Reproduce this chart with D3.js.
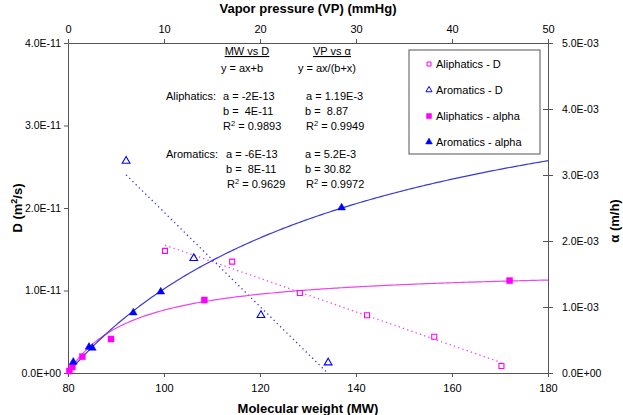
<!DOCTYPE html>
<html><head><meta charset="utf-8">
<script src="https://cdn.jsdelivr.net/npm/d3@7"></script>
<style>body{margin:0;background:#fff} svg{font-family:"Liberation Sans",Arial,sans-serif} text{white-space:pre}</style>
</head><body><svg id="c" width="623" height="415"></svg>
<script>
// ---- data ----
const aliMW = [100.2, 114.2, 128.3, 142.3, 156.3, 170.3];
const aliD = [1.48e-11, 1.35e-11, 0.97e-11, 0.70e-11, 0.44e-11, 0.085e-11];
const aroMW = [92.1, 106.2, 120.2, 134.2];
const aroD = [2.57e-11, 1.39e-11, 0.70e-11, 0.125e-11];
const aliVP = [46.0, 14.2, 4.48, 1.49, 0.45, 0.14];
const aliAlpha = [1.40e-3, 1.106e-3, 0.515e-3, 0.247e-3, 0.091e-3, 0.03e-3];
const aroVP = [28.5, 9.66, 6.80, 2.53, 2.19, 0.55];
const aroAlpha = [2.505e-3, 1.23e-3, 0.914e-3, 0.379e-3, 0.394e-3, 0.167e-3];
// fitted curve parameters alpha = a*VP/(b+VP)
const aliFitAB = [1.6e-3, 6.8];
const aroFitAB = [5.2e-3, 30.82];
// ticks
const mwTicks = [80, 100, 120, 140, 160, 180];
const vpTicks = [0, 10, 20, 30, 40, 50];
const dTicks = [0, 1e-11, 2e-11, 3e-11, 4e-11];
const dTickLabels = ["0.0E+00", "1.0E-11", "2.0E-11", "3.0E-11", "4.0E-11"];
const aTicks = [0, 1e-3, 2e-3, 3e-3, 4e-3, 5e-3];
const aTickLabels = ["0.0E+00", "1.0E-03", "2.0E-03", "3.0E-03", "4.0E-03", "5.0E-03"];
const legendLabels = ["Aliphatics - D", "Aromatics - D", "Aliphatics - alpha", "Aromatics - alpha"];

const MAG = "#FF00FF", MAGL = "#EE44EE", BLU = "#0000FF", BLUL = "#3838DD", AX = "#555";
const L = 68, R = 548, T = 43, B = 373;
const svg = d3.select("#c");
const x = d3.scaleLinear().domain([80, 180]).range([L, R]);
const xv = d3.scaleLinear().domain([0, 50]).range([L, R]);
const y = d3.scaleLinear().domain([0, 4e-11]).range([B, T]);
const ya = d3.scaleLinear().domain([0, 5e-3]).range([B, T]);

function styleAxis(g) {
  g.select(".domain").attr("stroke", AX);
  g.selectAll(".tick line").attr("stroke", AX);
  g.selectAll(".tick text").attr("fill", "#000").attr("font-family", "Liberation Sans, Arial, sans-serif");
}
const gB = svg.append("g").attr("transform", `translate(0,${B})`)
  .call(d3.axisBottom(x).tickValues(mwTicks).tickSize(4).tickSizeOuter(0).tickPadding(7));
styleAxis(gB); gB.selectAll(".tick text").attr("font-size", 11);
const gT = svg.append("g").attr("transform", `translate(0,${T})`)
  .call(d3.axisTop(xv).tickValues(vpTicks).tickSize(4).tickSizeOuter(0).tickPadding(6));
styleAxis(gT); gT.selectAll(".tick text").attr("font-size", 11);
const gL = svg.append("g").attr("transform", `translate(${L},0)`)
  .call(d3.axisLeft(y).tickValues(dTicks).tickFormat((d, i) => dTickLabels[i]).tickSize(4).tickSizeOuter(0).tickPadding(3));
styleAxis(gL); gL.selectAll(".tick text").attr("font-size", 10.5);
const gR = svg.append("g").attr("transform", `translate(${R},0)`)
  .call(d3.axisRight(ya).tickValues(aTicks).tickFormat((d, i) => aTickLabels[i]).tickSize(5).tickSizeOuter(0).tickPadding(9));
styleAxis(gR); gR.selectAll(".tick text").attr("font-size", 10.5);
gR.selectAll(".tick line").attr("x1", -5).attr("x2", 5);

// axis titles
svg.append("text").attr("x", 308).attr("y", 13).attr("text-anchor", "middle")
  .attr("font-size", 13).attr("font-weight", "bold").text("Vapor pressure (VP) (mmHg)");
svg.append("text").attr("x", 308).attr("y", 413).attr("text-anchor", "middle")
  .attr("font-size", 13).attr("font-weight", "bold").text("Molecular weight (MW)");
const lt = svg.append("text").attr("transform", "translate(22,208) rotate(-90)").attr("text-anchor", "middle")
  .attr("font-size", 13).attr("font-weight", "bold");
lt.append("tspan").text("D (m");
lt.append("tspan").attr("font-size", 9).attr("dy", -5).text("2");
lt.append("tspan").attr("dy", 5).text("/s)");
svg.append("text").attr("transform", "translate(619,221) rotate(-90)").attr("text-anchor", "middle")
  .attr("font-size", 13).attr("font-weight", "bold").text("α (m/h)");

// least-squares trendlines for D
function linfit(xs, ys) {
  const mx = d3.mean(xs), my = d3.mean(ys);
  let sxy = 0, sxx = 0;
  xs.forEach((v, i) => { sxy += (v - mx) * (ys[i] - my); sxx += (v - mx) ** 2; });
  const m = sxy / sxx; return { m, c: my - m * mx };
}
function trend(xs, ys, color) {
  const f = linfit(xs, ys);
  const x0 = d3.min(xs), x1 = d3.max(xs);
  svg.append("line").attr("x1", x(x0)).attr("y1", y(f.m * x0 + f.c))
    .attr("x2", x(x1)).attr("y2", y(f.m * x1 + f.c))
    .attr("stroke", color).attr("stroke-width", 1.3).attr("stroke-dasharray", "1.3,3.2");
}
trend(aliMW, aliD, MAGL);
trend(aroMW, aroD, BLUL);

// fitted alpha curves
function curve(ab, color) {
  const vps = d3.range(0, 50.001, 0.25);
  const line = d3.line().x(v => xv(v)).y(v => ya(ab[0] * v / (ab[1] + v)));
  svg.append("path").datum(vps).attr("d", line).attr("fill", "none")
    .attr("stroke", color).attr("stroke-width", 1.2);
}
curve(aliFitAB, MAGL);
curve(aroFitAB, BLUL);

// markers
const sqOpen = d3.symbol().type(d3.symbolSquare).size(25);
const sqFill = d3.symbol().type(d3.symbolSquare).size(36);
const tri = d3.symbol().type(d3.symbolTriangle).size(26);
function pts(xs, ys, sx, sy, sym, color, filled) {
  svg.append("g").selectAll("path").data(xs).join("path")
    .attr("d", sym).attr("transform", (d, i) => `translate(${sx(d)},${sy(ys[i])})`)
    .attr("fill", filled ? color : "#fff").attr("stroke", color).attr("stroke-width", filled ? 0.5 : 1.1);
}
pts(aliMW, aliD, x, y, sqOpen, MAG, false);
pts(aroMW, aroD, x, y, tri, BLU, false);
pts(aliVP, aliAlpha, xv, ya, sqFill, MAG, true);
pts(aroVP, aroAlpha, xv, ya, tri, BLU, true);

// legend
const lg = svg.append("g");
lg.append("rect").attr("x", 409).attr("y", 50).attr("width", 131).attr("height", 104)
  .attr("fill", "#fff").attr("stroke", AX).attr("stroke-width", 1);
const legSyms = [[d3.symbol().type(d3.symbolSquare).size(16), MAG, false],
  [d3.symbol().type(d3.symbolTriangle).size(16), BLU, false],
  [d3.symbol().type(d3.symbolSquare).size(25), MAG, true],
  [d3.symbol().type(d3.symbolTriangle).size(20), BLU, true]];
legendLabels.forEach((t, i) => {
  const cy = 64 + i * 26;
  const s = legSyms[i];
  lg.append("path").attr("d", s[0]).attr("transform", `translate(429,${cy})`)
    .attr("fill", s[2] ? s[1] : "#fff").attr("stroke", s[1]).attr("stroke-width", s[2] ? 0.5 : 1);
  lg.append("text").attr("x", 436).attr("y", cy + 4).attr("font-size", 11).text(t);
});

// annotations
const ann = svg.append("g").attr("font-size", 11);
function txt(xp, yp, parts, anchor) {
  const t = ann.append("text").attr("x", xp).attr("y", yp).attr("text-anchor", anchor || "start");
  parts.forEach(p => {
    if (typeof p === "string") t.append("tspan").text(p);
    else t.append("tspan").attr("font-size", 7.5).attr("dy", -4).text(p.sup)
      .clone(true).attr("font-size", 11).attr("dy", 4).text(p.after);
  });
  return t;
}
txt(247, 55, ["MW vs D"], "middle").attr("text-decoration", "underline");
txt(332, 55, ["VP vs α"], "middle").attr("text-decoration", "underline");
txt(242, 72, ["y = ax+b"], "middle");
txt(327, 72, ["y = ax/(b+x)"], "middle");
txt(166, 100, ["Aliphatics:"]);
txt(223, 100, ["a = -2E-13"]);
txt(223, 115, ["b =  4E-11"]);
txt(223, 130, ["R", { sup: "2", after: " = 0.9893" }]);
txt(306, 100, ["a = 1.19E-3"]);
txt(305, 115, ["b =  8.87"]);
txt(306, 130, ["R", { sup: "2", after: " = 0.9949" }]);
txt(166, 158, ["Aromatics:"]);
txt(226, 158, ["a = -6E-13"]);
txt(226, 173, ["b =  8E-11"]);
txt(227, 188, ["R", { sup: "2", after: " = 0.9629" }]);
txt(305, 158, ["a = 5.2E-3"]);
txt(305, 173, ["b = 30.82"]);
txt(306, 188, ["R", { sup: "2", after: " = 0.9972" }]);
</script></body></html>
